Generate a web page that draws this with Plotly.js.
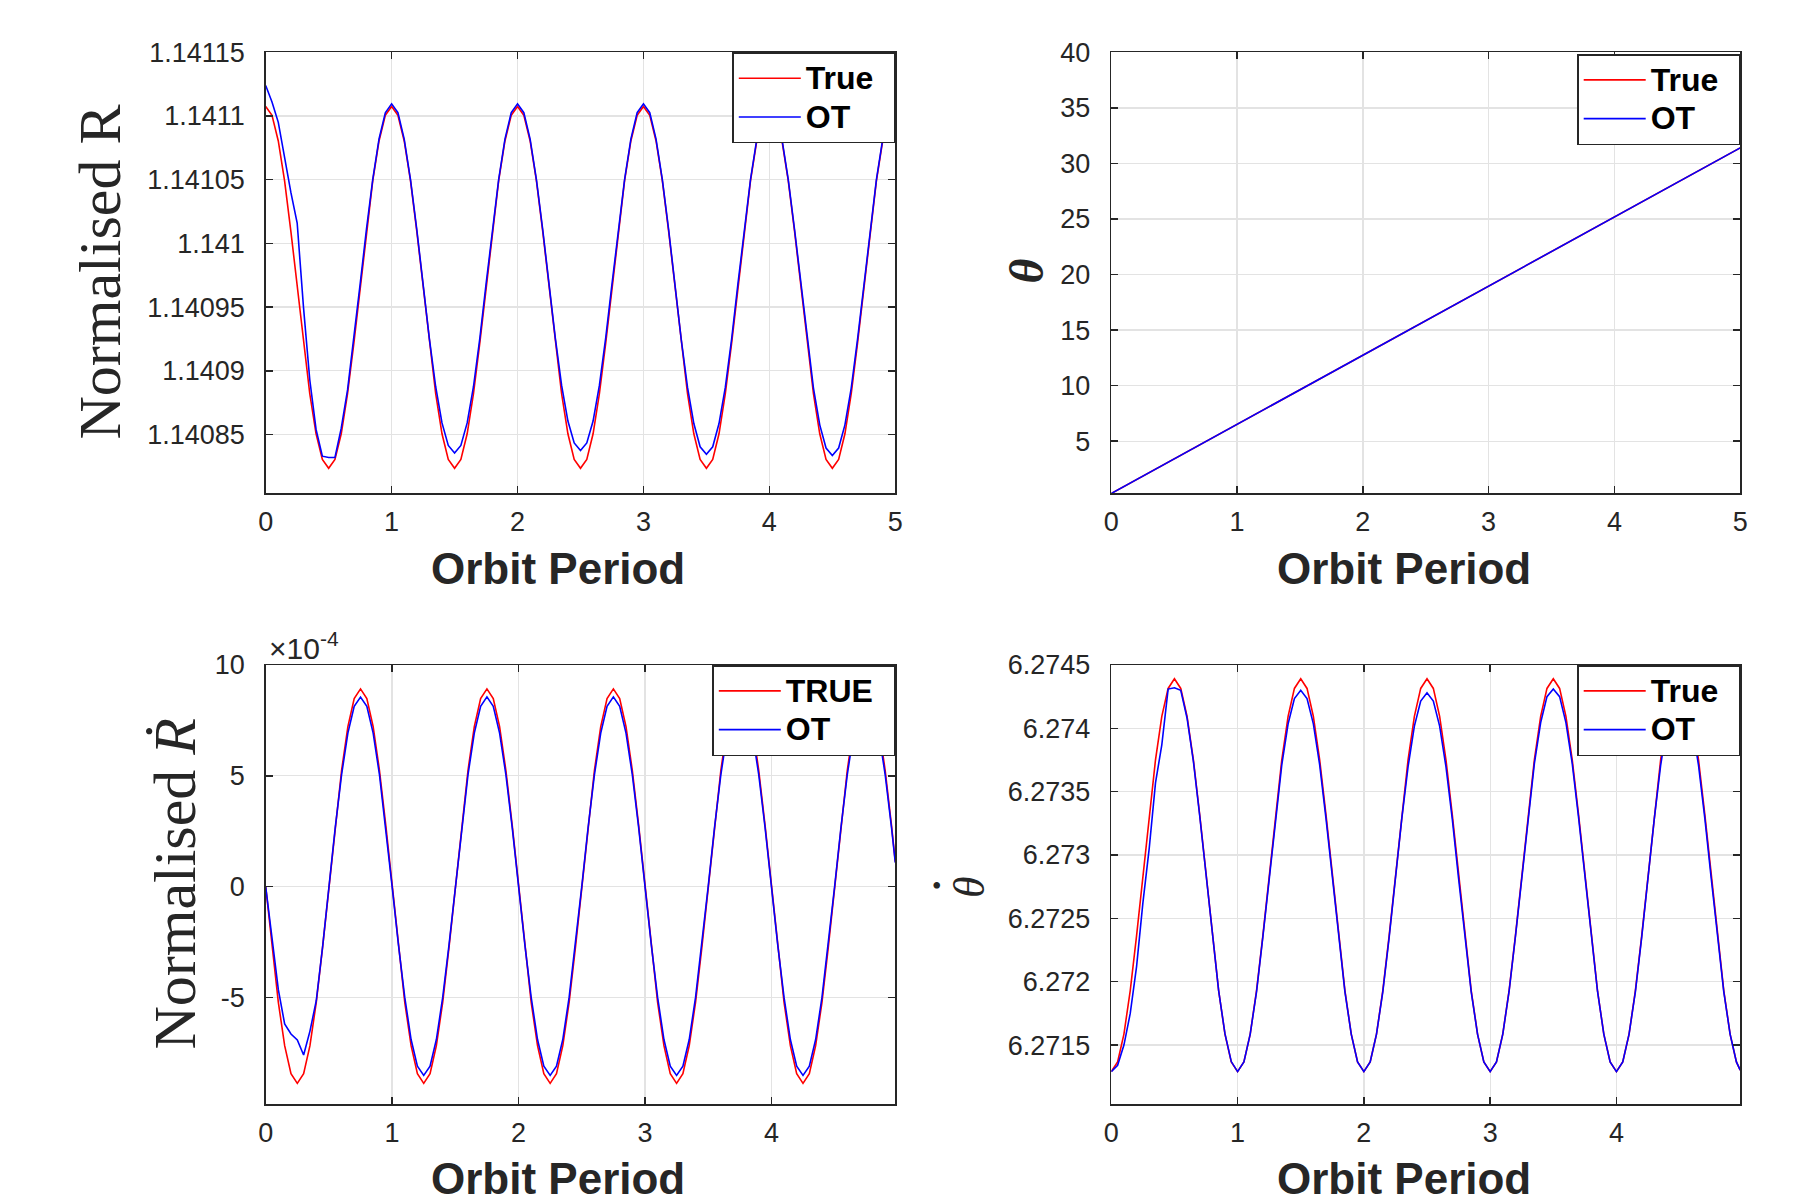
<!DOCTYPE html>
<html>
<head>
<meta charset="utf-8">
<script src="https://cdn.plot.ly/plotly-3.0.1.min.js"></script>
<style>html,body{margin:0;padding:0;background:#fff;}#chart{width:1807px;height:1204px;}</style>
</head>
<body>
<div id="chart"></div>
<script>
// ---------------- data ----------------
const tTop = [0,0.05,0.1,0.15,0.2,0.25,0.3,0.35,0.4,0.45,0.5,0.55,0.6,0.65,0.7,0.75,0.8,0.85,0.9,0.95,
  1,1.05,1.1,1.15,1.2,1.25,1.3,1.35,1.4,1.45,1.5,1.55,1.6,1.65,1.7,1.75,1.8,1.85,1.9,1.95,
  2,2.05,2.1,2.15,2.2,2.25,2.3,2.35,2.4,2.45,2.5,2.55,2.6,2.65,2.7,2.75,2.8,2.85,2.9,2.95,
  3,3.05,3.1,3.15,3.2,3.25,3.3,3.35,3.4,3.45,3.5,3.55,3.6,3.65,3.7,3.75,3.8,3.85,3.9,3.95,
  4,4.05,4.1,4.15,4.2,4.25,4.3,4.35,4.4,4.45,4.5,4.55,4.6,4.65,4.7,4.75,4.8,4.85,4.9,4.95,5];

const tBottom = [0,0.05,0.1,0.15,0.2,0.25,0.3,0.35,0.4,0.45,0.5,0.55,0.6,0.65,0.7,0.75,0.8,0.85,0.9,0.95,
  1,1.05,1.1,1.15,1.2,1.25,1.3,1.35,1.4,1.45,1.5,1.55,1.6,1.65,1.7,1.75,1.8,1.85,1.9,1.95,
  2,2.05,2.1,2.15,2.2,2.25,2.3,2.35,2.4,2.45,2.5,2.55,2.6,2.65,2.7,2.75,2.8,2.85,2.9,2.95,
  3,3.05,3.1,3.15,3.2,3.25,3.3,3.35,3.4,3.45,3.5,3.55,3.6,3.65,3.7,3.75,3.8,3.85,3.9,3.95,
  4,4.05,4.1,4.15,4.2,4.25,4.3,4.35,4.4,4.45,4.5,4.55,4.6,4.65,4.7,4.75,4.8,4.85,4.9,4.95,4.98];

// Normalised R
const rTrue = [
  1.1411075,1.1411006,1.1410804,1.141049,1.1410094,1.1409655,1.1409216,1.140882,1.1408506,1.1408304,
  1.1408235,1.1408304,1.1408506,1.140882,1.1409216,1.1409655,1.1410094,1.141049,1.1410804,1.1411006,
  1.1411075,1.1411006,1.1410804,1.141049,1.1410094,1.1409655,1.1409216,1.140882,1.1408506,1.1408304,
  1.1408235,1.1408304,1.1408506,1.140882,1.1409216,1.1409655,1.1410094,1.141049,1.1410804,1.1411006,
  1.1411075,1.1411006,1.1410804,1.141049,1.1410094,1.1409655,1.1409216,1.140882,1.1408506,1.1408304,
  1.1408235,1.1408304,1.1408506,1.140882,1.1409216,1.1409655,1.1410094,1.141049,1.1410804,1.1411006,
  1.1411075,1.1411006,1.1410804,1.141049,1.1410094,1.1409655,1.1409216,1.140882,1.1408506,1.1408304,
  1.1408235,1.1408304,1.1408506,1.140882,1.1409216,1.1409655,1.1410094,1.141049,1.1410804,1.1411006,
  1.1411075,1.1411006,1.1410804,1.141049,1.1410094,1.1409655,1.1409216,1.140882,1.1408506,1.1408304,
  1.1408235,1.1408304,1.1408506,1.140882,1.1409216,1.1409655,1.1410094,1.141049,1.1410804,1.1411006,
  1.1411075];
const rOT = [
  1.141124,1.141111,1.141095,1.141066,1.14104,1.141016,1.14095,1.140893,1.140854,1.140833,
  1.140832,1.140832,1.140855,1.140885,1.140925,1.140968,1.141011,1.14105,1.141082,1.1411025,
  1.1411095,1.1411026,1.1410819,1.14105,1.1410109,1.140968,1.1409251,1.1408875,1.1408591,1.1408414,
  1.1408355,1.1408414,1.1408591,1.1408875,1.1409251,1.140968,1.1410109,1.14105,1.1410819,1.1411026,
  1.1411095,1.1411026,1.1410819,1.14105,1.1410109,1.140968,1.1409256,1.1408885,1.1408606,1.1408434,
  1.1408375,1.1408434,1.1408606,1.1408885,1.1409256,1.140968,1.1410109,1.14105,1.1410819,1.1411026,
  1.1411095,1.1411026,1.1410819,1.14105,1.1410109,1.140968,1.1409246,1.140887,1.1408586,1.1408404,
  1.1408345,1.1408404,1.1408586,1.140887,1.1409246,1.140968,1.1410109,1.14105,1.1410819,1.1411026,
  1.1411095,1.1411026,1.1410819,1.14105,1.1410109,1.140968,1.1409246,1.1408865,1.1408576,1.1408394,
  1.1408335,1.1408394,1.1408576,1.1408865,1.1409246,1.140968,1.1410109,1.14105,1.1410819,1.1411026,
  1.1411095];

// theta
const tTheta = [0,0.5,1,1.5,2,2.5,3,3.5,4,4.5,5];
const thetaTrue = [0.3,3.41,6.52,9.63,12.74,15.85,18.96,22.07,25.18,28.29,31.4];
const thetaOT   = [0.3,3.41,6.52,9.63,12.74,15.85,18.96,22.07,25.18,28.29,31.4];

// Normalised R-dot
const rDotTrue = [
  0,-2.74e-4,-5.22e-4,-7.18e-4,-8.44e-4,-8.88e-4,-8.44e-4,-7.18e-4,-5.22e-4,-2.74e-4,
  0,2.76e-4,5.24e-4,7.22e-4,8.48e-4,8.92e-4,8.48e-4,7.22e-4,5.24e-4,2.76e-4,
  0,-2.74e-4,-5.22e-4,-7.18e-4,-8.44e-4,-8.88e-4,-8.44e-4,-7.18e-4,-5.22e-4,-2.74e-4,
  0,2.76e-4,5.24e-4,7.22e-4,8.48e-4,8.92e-4,8.48e-4,7.22e-4,5.24e-4,2.76e-4,
  0,-2.74e-4,-5.22e-4,-7.18e-4,-8.44e-4,-8.88e-4,-8.44e-4,-7.18e-4,-5.22e-4,-2.74e-4,
  0,2.76e-4,5.24e-4,7.22e-4,8.48e-4,8.92e-4,8.48e-4,7.22e-4,5.24e-4,2.76e-4,
  0,-2.74e-4,-5.22e-4,-7.18e-4,-8.44e-4,-8.88e-4,-8.44e-4,-7.18e-4,-5.22e-4,-2.74e-4,
  0,2.76e-4,5.24e-4,7.22e-4,8.48e-4,8.92e-4,8.48e-4,7.22e-4,5.24e-4,2.76e-4,
  0,-2.74e-4,-5.22e-4,-7.18e-4,-8.44e-4,-8.88e-4,-8.44e-4,-7.18e-4,-5.22e-4,-2.74e-4,
  0,2.76e-4,5.24e-4,7.22e-4,8.48e-4,8.92e-4,8.48e-4,7.22e-4,5.24e-4,2.76e-4,
  1.12e-4];
const rDotOT = [
  0,-2.45e-4,-4.65e-4,-6.2e-4,-6.65e-4,-6.92e-4,-7.6e-4,-6.52e-4,-5.15e-4,-2.72e-4,
  0.02e-4,2.66e-4,5.04e-4,6.93e-4,8.14e-4,8.55e-4,8.14e-4,6.93e-4,5.04e-4,2.66e-4,
  0,-2.63e-4,-5.0e-4,-6.9e-4,-8.1e-4,-8.52e-4,-8.1e-4,-6.9e-4,-5.0e-4,-2.63e-4,
  0,2.66e-4,5.04e-4,6.93e-4,8.14e-4,8.56e-4,8.14e-4,6.93e-4,5.04e-4,2.66e-4,
  0,-2.63e-4,-5.0e-4,-6.9e-4,-8.1e-4,-8.52e-4,-8.1e-4,-6.9e-4,-5.0e-4,-2.63e-4,
  0,2.66e-4,5.04e-4,6.93e-4,8.14e-4,8.56e-4,8.14e-4,6.93e-4,5.04e-4,2.66e-4,
  0,-2.63e-4,-5.0e-4,-6.9e-4,-8.1e-4,-8.52e-4,-8.1e-4,-6.9e-4,-5.0e-4,-2.63e-4,
  0,2.66e-4,5.04e-4,6.93e-4,8.14e-4,8.56e-4,8.14e-4,6.93e-4,5.04e-4,2.66e-4,
  0,-2.63e-4,-5.0e-4,-6.9e-4,-8.1e-4,-8.52e-4,-8.1e-4,-6.9e-4,-5.0e-4,-2.63e-4,
  0,2.66e-4,5.04e-4,6.93e-4,8.14e-4,8.56e-4,8.14e-4,6.93e-4,5.04e-4,2.66e-4,
  1.08e-4];

// theta-dot
const thetaDotTrue = [
  6.271291,6.271367,6.271587,6.27193,6.272362,6.272841,6.27332,6.273752,6.274095,6.274315,
  6.274391,6.274315,6.274095,6.273752,6.27332,6.272841,6.272362,6.27193,6.271587,6.271367,
  6.271291,6.271367,6.271587,6.27193,6.272362,6.272841,6.27332,6.273752,6.274095,6.274315,
  6.274391,6.274315,6.274095,6.273752,6.27332,6.272841,6.272362,6.27193,6.271587,6.271367,
  6.271291,6.271367,6.271587,6.27193,6.272362,6.272841,6.27332,6.273752,6.274095,6.274315,
  6.274391,6.274315,6.274095,6.273752,6.27332,6.272841,6.272362,6.27193,6.271587,6.271367,
  6.271291,6.271367,6.271587,6.27193,6.272362,6.272841,6.27332,6.273752,6.274095,6.274315,
  6.274391,6.274315,6.274095,6.273752,6.27332,6.272841,6.272362,6.27193,6.271587,6.271367,
  6.271291,6.271367,6.271587,6.27193,6.272362,6.272841,6.27332,6.273752,6.274095,6.274315,
  6.274391,6.274315,6.274095,6.273752,6.27332,6.272841,6.272362,6.27193,6.271587,6.271367,
  6.271303];
const thetaDotOT = [
  6.27129,6.27134,6.2715,6.27175,6.27212,6.27262,6.27305,6.27357,6.27387,6.27431,
  6.27432,6.2743,6.27408,6.27374,6.27331,6.27284,6.27236,6.27193,6.27159,6.27137,
  6.271291,6.271367,6.271587,6.27192,6.272352,6.272821,6.27329,6.273712,6.274035,6.274235,
  6.274301,6.274235,6.274035,6.273712,6.27329,6.272821,6.272352,6.27192,6.271587,6.271367,
  6.271291,6.271367,6.271587,6.27192,6.272347,6.272816,6.273285,6.273697,6.274018,6.274215,
  6.274281,6.274215,6.274018,6.273697,6.273285,6.272816,6.272347,6.27192,6.271587,6.271367,
  6.271291,6.271367,6.271587,6.271925,6.272355,6.272826,6.273297,6.273722,6.274045,6.27425,
  6.274311,6.27425,6.274045,6.273722,6.273297,6.272826,6.272355,6.271925,6.271587,6.271367,
  6.271291,6.271367,6.271587,6.27192,6.27235,6.272821,6.27329,6.273707,6.274025,6.274225,
  6.274291,6.274225,6.274025,6.273707,6.27329,6.272821,6.27235,6.27192,6.271587,6.271367,
  6.271303];

// tick values / labels
const xTicksTop = [0,1,2,3,4,5];
const xTicksBottom = [0,1,2,3,4];
const rTickVals = [1.14085,1.1409,1.14095,1.141,1.14105,1.1411,1.14115];
const rTickText = ['1.14085','1.1409','1.14095','1.141','1.14105','1.1411','1.14115'];
const thetaTickVals = [5,10,15,20,25,30,35,40];
const rDotTickVals = [-5e-4,0,5e-4,10e-4];
const rDotTickText = ['-5','0','5','10'];
const thetaDotTickVals = [6.2715,6.272,6.2725,6.273,6.2735,6.274,6.2745];
const thetaDotTickText = ['6.2715','6.272','6.2725','6.273','6.2735','6.274','6.2745'];

const legendNames = [['True','OT'],['True','OT'],['TRUE','OT'],['True','OT']];
const xTitle = 'Orbit Period';
const yTitles = ['Normalised R', '<b><i>θ</i></b>', 'Normalised <i>Ṙ</i>', '<i>θ</i>'];
const dotAccent = '<b>·</b>';
const exponentLabel = '×10<sup>-4</sup>';

// ---------------- drawing ----------------
const W = 1807, H = 1204;
const SANS = 'Liberation Sans, Arial, Helvetica, sans-serif';
const SERIF = 'Liberation Serif, Times New Roman, DejaVu Serif, serif';
const INK = '#262626';
const NB = '\u00a0';

const xDomL = [265.7/W, 895.3/W], xDomR = [1111.3/W, 1740.2/W];
const yDomT = [1-493/H, 1-52.3/H], yDomB = [1-1104/H, 1-665/H];

function xAxis(domain, range, ticks, anchor) {
  return {
    domain: domain, range: range, anchor: anchor,
    tickmode: 'array', tickvals: ticks, ticktext: ticks.map(String),
    showline: true, linecolor: INK, linewidth: 1.5, mirror: 'ticks',
    ticks: 'inside', ticklen: 7, tickwidth: 1.5, tickcolor: INK,
    showgrid: true, gridcolor: '#e3e3e3', gridwidth: 1.3, zeroline: false,
    tickfont: {family: SANS, size: 27, color: INK}, ticklabelstandoff: 4,
    automargin: false
  };
}
function yAxis(domain, range, vals, text, anchor) {
  return {
    domain: domain, range: range, anchor: anchor,
    tickmode: 'array', tickvals: vals, ticktext: text,
    showline: true, linecolor: INK, linewidth: 1.5, mirror: 'ticks',
    ticks: 'inside', ticklen: 7, tickwidth: 1.5, tickcolor: INK,
    showgrid: true, gridcolor: '#e3e3e3', gridwidth: 1.3, zeroline: false,
    tickfont: {family: SANS, size: 27, color: INK}, ticklabelstandoff: 14,
    automargin: false
  };
}
function legendBox(xr, ytop) {
  return {
    x: xr, y: ytop, xanchor: 'right', yanchor: 'top',
    bgcolor: '#ffffff', bordercolor: INK, borderwidth: 1.5,
    font: {family: SANS, size: 27.5, color: '#000000', weight: 'bold'},
    itemwidth: 62, tracegroupgap: 0
  };
}
function legendText(name) {
  return '<span style="font-size:32px">' + name + '</span>' + NB + NB;
}
function label(text, xpx, ypx, size, family, angle, extra) {
  return Object.assign({
    text: text, x: xpx/W, y: 1-ypx/H, xref: 'paper', yref: 'paper',
    xanchor: 'center', yanchor: 'middle', textangle: angle, showarrow: false,
    font: {family: family, size: size, color: INK}
  }, extra || {});
}

const lineRed = {color: '#ff0000', width: 1.6};
const lineBlue = {color: '#0000ff', width: 1.6};

const traces = [
  {x: tTop, y: rTrue, xaxis: 'x', yaxis: 'y', name: legendText(legendNames[0][0]), legend: 'legend', mode: 'lines', line: lineRed},
  {x: tTop, y: rOT, xaxis: 'x', yaxis: 'y', name: legendText(legendNames[0][1]), legend: 'legend', mode: 'lines', line: lineBlue},
  {x: tTheta, y: thetaTrue, xaxis: 'x2', yaxis: 'y2', name: legendText(legendNames[1][0]), legend: 'legend2', mode: 'lines', line: lineRed},
  {x: tTheta, y: thetaOT, xaxis: 'x2', yaxis: 'y2', name: legendText(legendNames[1][1]), legend: 'legend2', mode: 'lines', line: lineBlue},
  {x: tBottom, y: rDotTrue, xaxis: 'x3', yaxis: 'y3', name: legendText(legendNames[2][0]), legend: 'legend3', mode: 'lines', line: lineRed},
  {x: tBottom, y: rDotOT, xaxis: 'x3', yaxis: 'y3', name: legendText(legendNames[2][1]), legend: 'legend3', mode: 'lines', line: lineBlue},
  {x: tBottom, y: thetaDotTrue, xaxis: 'x4', yaxis: 'y4', name: legendText(legendNames[3][0]), legend: 'legend4', mode: 'lines', line: lineRed},
  {x: tBottom, y: thetaDotOT, xaxis: 'x4', yaxis: 'y4', name: legendText(legendNames[3][1]), legend: 'legend4', mode: 'lines', line: lineBlue}
];

const titleFont = {family: SANS, size: 44, color: INK, weight: 'bold'};

const layout = {
  width: W, height: H,
  margin: {l: 0, r: 0, t: 0, b: 0, pad: 0},
  paper_bgcolor: '#ffffff', plot_bgcolor: '#ffffff',
  showlegend: true, hovermode: false,
  xaxis: xAxis(xDomL, [0, 5], xTicksTop, 'y'),
  yaxis: yAxis(yDomT, [1.1408041, 1.14115], rTickVals, rTickText, 'x'),
  xaxis2: xAxis(xDomR, [0, 5], xTicksTop, 'y2'),
  yaxis2: yAxis(yDomT, [0.34, 40], thetaTickVals, thetaTickVals.map(String), 'x2'),
  xaxis3: xAxis(xDomL, [0, 4.98], xTicksBottom, 'y3'),
  yaxis3: yAxis(yDomB, [-9.81e-4, 10e-4], rDotTickVals, rDotTickText, 'x3'),
  xaxis4: xAxis(xDomR, [0, 4.98], xTicksBottom, 'y4'),
  yaxis4: yAxis(yDomB, [6.271035, 6.2745], thetaDotTickVals, thetaDotTickText, 'x4'),
  legend: legendBox(xDomL[1], yDomT[1]),
  legend2: legendBox(xDomR[1], 1-54/H),
  legend3: legendBox(xDomL[1], yDomB[1]),
  legend4: legendBox(xDomR[1], yDomB[1]),
  annotations: [
    label(xTitle, 558, 568, 44, SANS, 0, {font: titleFont}),
    label(xTitle, 1404, 568, 44, SANS, 0, {font: titleFont}),
    label(xTitle, 558, 1178, 44, SANS, 0, {font: titleFont}),
    label(xTitle, 1404, 1178, 44, SANS, 0, {font: titleFont}),
    label(yTitles[0], 99, 272.5, 60, SERIF, -90),
    label(yTitles[1], 1025.6, 271, 48, SERIF, -90),
    label(yTitles[2], 174.6, 884, 60, SERIF, -90),
    label(yTitles[3], 969, 887, 44, SERIF, -90),
    label(dotAccent, 936, 886, 40, SERIF, -90),
    label(exponentLabel, 267, 667, 30, SANS, 0, {xanchor: 'left', yanchor: 'bottom'})
  ]
};

Plotly.newPlot('chart', traces, layout, {displayModeBar: false, staticPlot: true});
</script>
</body>
</html>
